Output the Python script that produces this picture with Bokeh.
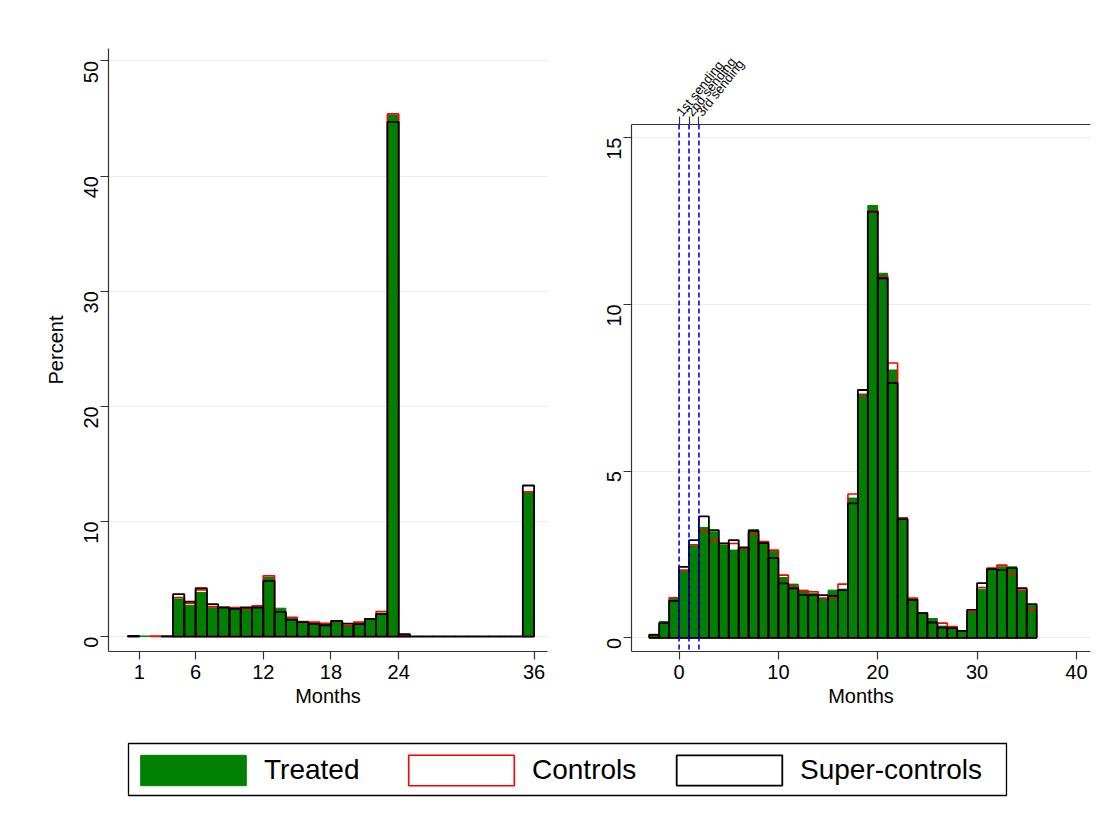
import math
from bokeh.plotting import figure
from bokeh.layouts import column, row
from bokeh.models import (Range1d, FixedTicker, LinearAxis, Span, ColumnDataSource,
                          Legend, LegendItem, BoxAnnotation)
from bokeh.core.properties import value
from bokeh.embed import file_html
from bokeh.resources import INLINE

# ---------------- data ----------------
# Left panel: duration in months, bins [k, k+1)
left_bins = list(range(0, 36))
left_treated = [0, 0.05, 0, 0, 3.27, 2.72, 3.82, 2.5, 2.5, 2.45, 2.35, 2.55, 5.13, 2.46,
                1.6, 1.3, 1.15, 1.05, 1.35, 0.95, 1.15, 1.55, 2.03, 45.3, 0.1,
                0, 0, 0, 0, 0, 0, 0, 0, 0, 0, 12.5]
left_controls = [0, 0, 0.05, 0, 3.39, 2.9, 4.05, 2.6, 2.55, 2.52, 2.42, 2.66, 5.27, 2.12,
                 1.68, 1.3, 1.25, 1.16, 1.3, 0.98, 1.25, 1.5, 2.17, 45.4, 0.1,
                 0, 0, 0, 0, 0, 0, 0, 0, 0, 0, 12.58]
left_super = [0.05, 0, 0, 0.03, 3.68, 3.04, 4.2, 2.81, 2.52, 2.4, 2.52, 2.52, 4.84, 2.14,
              1.45, 1.25, 1.1, 0.98, 1.36, 1.13, 1.07, 1.53, 1.94, 44.7, 0.2,
              0.02, 0.02, 0.02, 0.02, 0.02, 0.02, 0.02, 0.02, 0.02, 0.02, 13.12]
left_xticks = [1, 6, 12, 18, 24, 36]
left_yticks = [0, 10, 20, 30, 40, 50]

# Right panel: months relative to first sending, bins [k, k+1)
right_bins = list(range(-3, 36))
right_treated = [0.1, 0.49, 1.18, 2.0, 2.76, 3.31, 3.18, 2.78, 2.63, 2.68, 3.24, 2.86, 2.59,
                 1.81, 1.61, 1.43, 1.34, 1.18, 1.43, 1.46, 4.19, 7.31, 12.96, 10.93, 8.03,
                 3.61, 1.15, 0.75, 0.58, 0.35, 0.3, 0.22, 0.78, 1.46, 2.04, 2.13, 2.13, 1.39, 1.0]
right_controls = [0.1, 0.44, 1.2, 2.03, 2.79, 3.2, 2.93, 2.83, 2.83, 2.68, 3.11, 2.89, 2.63,
                  1.88, 1.54, 1.41, 1.38, 1.19, 1.21, 1.61, 4.31, 7.25, 12.8, 10.83, 8.24,
                  3.58, 1.19, 0.74, 0.46, 0.44, 0.34, 0.2, 0.79, 1.51, 2.09, 2.18, 1.91, 1.43, 0.86]
right_super = [0.09, 0.44, 1.11, 2.13, 2.93, 3.64, 3.23, 2.83, 2.93, 2.71, 3.21, 2.84, 2.39,
               1.63, 1.48, 1.28, 1.28, 1.28, 1.26, 1.43, 4.03, 7.43, 12.78, 10.78, 7.64,
               3.56, 1.14, 0.74, 0.46, 0.31, 0.29, 0.21, 0.84, 1.64, 2.06, 2.03, 2.09, 1.49, 1.01]
right_xticks = [0, 10, 20, 30, 40]
right_yticks = [0, 5, 10, 15]
sendings = [0, 1, 2]
sending_labels = ["1st sending", "2nd sending", "3rd sending"]

series_names = ["Treated", "Controls", "Super-controls"]

# ---------------- styling ----------------
FONT = "Liberation Sans"
GREEN = "#008000"
RED = "#ff0000"
BLACK = "#000000"
AXIS = "#333333"
GRID = "#e6eef0"
REGION = "#e4ecef"
TICK_FS = "20px"


def style_axis(ax):
    ax.axis_line_color = AXIS
    ax.axis_line_width = 1.2
    ax.major_tick_line_color = AXIS
    ax.major_tick_line_width = 1.2
    ax.major_tick_out = 8
    ax.major_tick_in = 0
    ax.minor_tick_line_color = None
    ax.major_label_text_font = FONT
    ax.major_label_text_font_size = TICK_FS
    ax.major_label_text_color = "#000000"
    ax.axis_label_text_font = FONT
    ax.axis_label_text_font_size = TICK_FS
    ax.axis_label_text_font_style = "normal"
    ax.axis_label_text_color = "#000000"


def draw_bars(p, bins, treated, controls, sup):
    def src(vals):
        keep = [i for i, v in enumerate(vals) if v > 0]
        return ColumnDataSource(dict(
            left=[bins[i] for i in keep],
            right=[bins[i] + 1 for i in keep],
            top=[vals[i] for i in keep],
            bottom=[0] * len(keep)))
    p.quad(left="left", right="right", top="top", bottom="bottom", source=src(treated),
           fill_color=GREEN, line_color=GREEN, line_width=1)
    p.quad(left="left", right="right", top="top", bottom="bottom", source=src(controls),
           fill_color=None, line_color=RED, line_width=1.6)
    p.quad(left="left", right="right", top="top", bottom="bottom", source=src(sup),
           fill_color=None, line_color=BLACK, line_width=1.8)


def base_fig(width, xr, yr, mbl, mbr, mbt, mbb):
    p = figure(width=width, height=732, x_range=Range1d(*xr), y_range=Range1d(*yr),
               output_backend="svg", toolbar_location=None,
               min_border_left=mbl, min_border_right=mbr,
               min_border_top=mbt, min_border_bottom=mbb)
    p.frame_align = False
    p.outline_line_color = None
    p.background_fill_color = "white"
    p.border_fill_color = "white"
    p.xgrid.visible = False
    return p


def region_box(p, left, right, top, bottom):
    # faint sub-graph region outline, in canvas pixels
    p.add_layout(BoxAnnotation(left=left, right=right, top=top, bottom=bottom,
                               left_units="canvas", right_units="canvas",
                               top_units="canvas", bottom_units="canvas",
                               fill_alpha=0, line_color=REGION, line_width=1.2,
                               level="underlay"))


# ---------------- left panel ----------------
p1 = base_fig(566, (-1.72, 37.19), (-1.3, 51.08), 108, 19, 48, 81)
p1.xaxis.ticker = FixedTicker(ticks=left_xticks)
p1.yaxis.ticker = FixedTicker(ticks=left_yticks)
p1.ygrid.ticker = FixedTicker(ticks=left_yticks)
p1.ygrid.grid_line_color = GRID
p1.ygrid.grid_line_width = 1.2
for ax in p1.xaxis + p1.yaxis:
    style_axis(ax)
p1.xaxis.axis_label = "Months"
p1.xaxis.major_label_standoff = 5
p1.xaxis.axis_label_standoff = 3
p1.yaxis.axis_label = "Percent"
p1.yaxis.major_label_orientation = math.pi / 2
p1.yaxis.major_label_standoff = 9
p1.yaxis.axis_label_standoff = 8
region_box(p1, 22, 566, 25, 731)
draw_bars(p1, left_bins, left_treated, left_controls, left_super)

# ---------------- right panel ----------------
p2 = base_fig(544, (-4.79, 41.42), (-0.41, 15.39), 65, 20, 124, 81)
p2.xaxis.ticker = FixedTicker(ticks=right_xticks)
p2.yaxis.ticker = FixedTicker(ticks=right_yticks)
p2.ygrid.ticker = FixedTicker(ticks=right_yticks)
p2.ygrid.grid_line_color = GRID
p2.ygrid.grid_line_width = 1.2
for ax in p2.xaxis + p2.yaxis:
    style_axis(ax)
p2.xaxis.axis_label = "Months"
p2.xaxis.major_label_standoff = 5
p2.xaxis.axis_label_standoff = 3
p2.yaxis.major_label_orientation = math.pi / 2
p2.yaxis.major_label_standoff = 9

top = LinearAxis(ticker=FixedTicker(ticks=sendings),
                 major_label_overrides={s: lab for s, lab in zip(sendings, sending_labels)})
style_axis(top)
top.major_label_text_font_size = "13px"
top.major_label_orientation = 0.9
top.major_label_standoff = 2
p2.add_layout(top, "above")
region_box(p2, 0, 544, 25, 731)

draw_bars(p2, right_bins, right_treated, right_controls, right_super)
for s in sendings:
    p2.add_layout(Span(location=s, dimension="height", line_color="#0000ff",
                       line_dash="5 3", line_width=1.6))

# ---------------- legend strip ----------------
LW, LH = 1110, 88
p3 = figure(width=LW, height=LH, x_range=Range1d(0, LW), y_range=Range1d(0, LH),
            output_backend="svg", toolbar_location=None, min_border=0)
p3.frame_align = False
p3.axis.visible = False
p3.grid.visible = False
p3.outline_line_color = None
# legend frame (page layout, not data)
p3.quad(left=[128], right=[1006], bottom=[25], top=[77], fill_color=None,
        line_color="#000000", line_width=1.3)
nan = float("nan")
hidden = lambda: ColumnDataSource(dict(left=[nan], right=[nan], top=[nan], bottom=[nan]))
r_t = p3.quad(left="left", right="right", top="top", bottom="bottom", source=hidden(),
              fill_color=GREEN, line_color=GREEN, line_width=1)
r_c = p3.quad(left="left", right="right", top="top", bottom="bottom", source=hidden(),
              fill_color=None, line_color=RED, line_width=1.6)
r_s = p3.quad(left="left", right="right", top="top", bottom="bottom", source=hidden(),
              fill_color=None, line_color=BLACK, line_width=1.8)
leg = Legend(items=[LegendItem(label=value(n), renderers=[r]) for n, r in
                    zip(series_names, [r_t, r_c, r_s])],
             orientation="horizontal", location=(127, 31),
             glyph_width=132, glyph_height=38, label_standoff=5, label_width=131,
             spacing=0, padding=0, margin=0,
             label_text_font=FONT, label_text_font_size="28px", label_text_color="#000000",
             border_line_color=None, background_fill_alpha=0)
p3.add_layout(leg, "center")

layout = column(row(p1, p2, spacing=0), p3, spacing=0)
open("out.html", "w").write(file_html(layout, INLINE))
